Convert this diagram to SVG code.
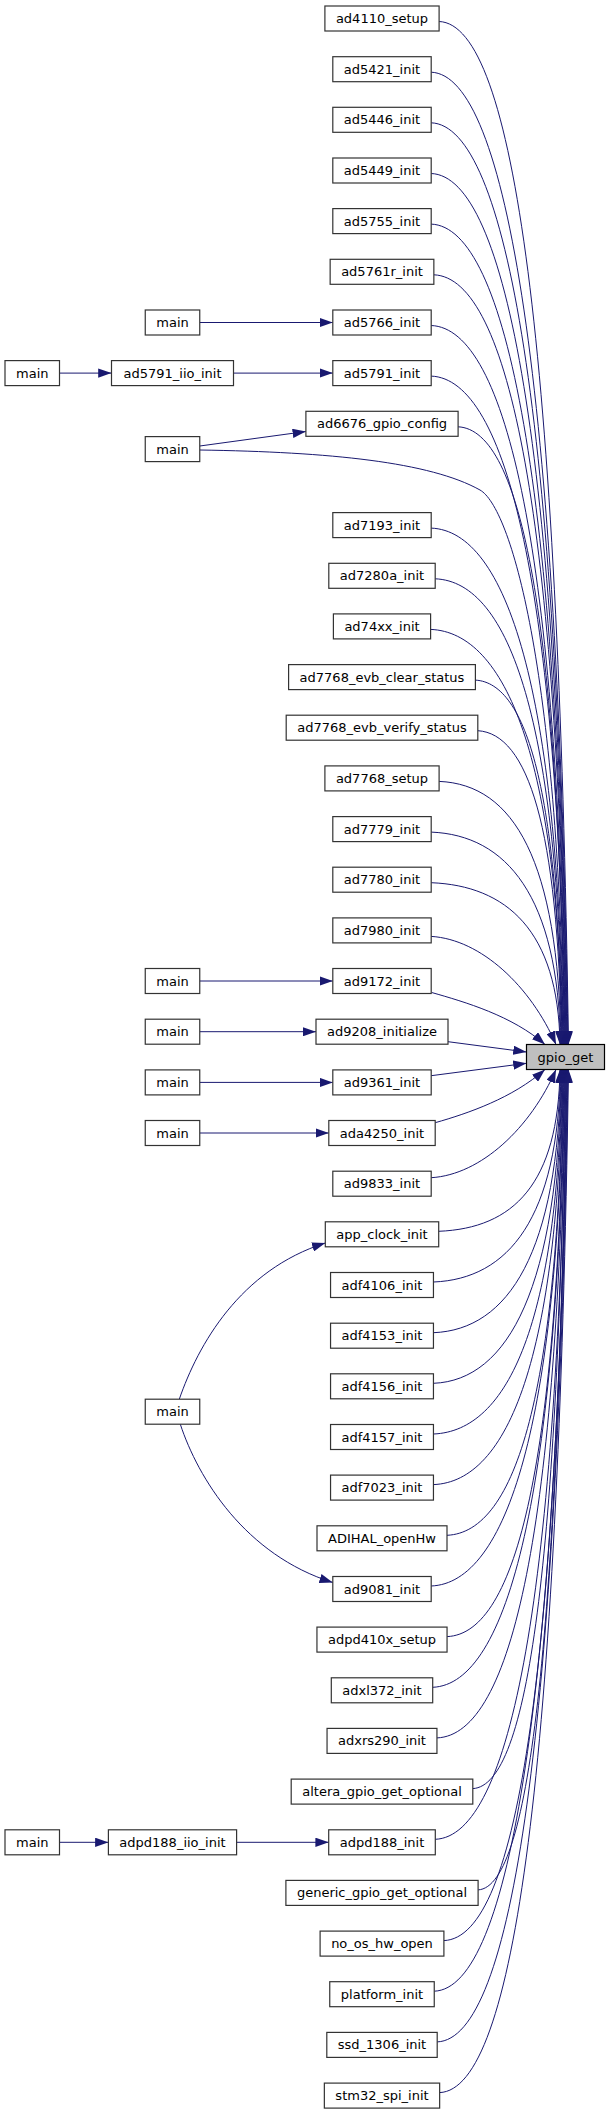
<svg xmlns="http://www.w3.org/2000/svg" width="611" height="2115" viewBox="0 0 611 2115">
<style>
.n rect{fill:#ffffff;stroke:#333333;stroke-width:1.2}
.f rect{fill:#bfbfbf;stroke:#000000;stroke-width:1.2}
text{font-family:"DejaVu Sans","Liberation Sans",sans-serif;font-size:13px;text-anchor:middle;fill:#000000}
.e{fill:none;stroke:#191970;stroke-width:1;marker-end:url(#ah)}
</style>
<defs>
<marker id="ah" markerUnits="userSpaceOnUse" markerWidth="13.3" markerHeight="9.33" refX="13.3" refY="4.67" orient="auto" viewBox="0 0 13.3 9.33">
<path d="M0,0 L13.3,4.67 L0,9.33 Z" fill="#191970"/>
</marker>
</defs>
<rect x="0" y="0" width="611" height="2115" fill="#ffffff"/>
<g id="edges">
<path class="e" d="M439.1,21.5 C514.1,24.5 558.0,344.6 568.5,1044.5"/>
<path class="e" d="M431.2,72.2 C506.2,75.2 558.0,379.1 568,1044.5"/>
<path class="e" d="M431.2,122.8 C506.2,125.8 558.0,413.5 567.5,1044.5"/>
<path class="e" d="M431.2,173.5 C506.2,176.5 558.1,448 567,1044.5"/>
<path class="e" d="M431.2,224.1 C506.2,227.1 558.1,482.4 566.5,1044.5"/>
<path class="e" d="M433.9,274.8 C508.9,277.8 558.1,516.8 566,1044.5"/>
<path class="e" d="M431.2,325.5 C506.2,328.5 558.1,551.3 565.5,1044.5"/>
<path class="e" d="M431.2,376.1 C506.2,379.1 558.1,585.7 565,1044.5"/>
<path class="e" d="M458.1,426.8 C521.7,429.8 558.1,620.2 564.5,1044.5"/>
<path class="e" d="M199.8,450 C330,452 430,462 480,490 C510,507 558.3,663.2 564,1044.5"/>
<path class="e" d="M431.2,528.1 C506.2,531.1 558.2,689.1 563.5,1044.5"/>
<path class="e" d="M435.2,578.8 C510.2,581.8 558.2,723.6 563,1044.5"/>
<path class="e" d="M430.6,629.4 C505.6,632.4 558.2,758 562.5,1044.5"/>
<path class="e" d="M475.4,680.1 C527.1,683.1 558.2,792.5 562,1044.5"/>
<path class="e" d="M477.8,730.7 C527.8,733.7 558.2,826.9 561.5,1044.5"/>
<path class="e" d="M439.1,781.4 C514.1,784.4 558.3,861.3 561,1044.5"/>
<path class="e" d="M431.2,832.1 C506.2,835.1 558.3,895.8 560.5,1044.5"/>
<path class="e" d="M431.2,882.7 C506.2,885.7 558.3,930.2 560,1044.5"/>
<path class="e" d="M431.2,936.4 C481.2,939.4 530.7,986.5 556,1044.5"/>
<path class="e" d="M431.7,992.5 C465,1002 512.5,1015.9 545,1044.5"/>
<path class="e" d="M448,1041.7 L526.5,1052"/>
<path class="e" d="M431.2,1075.7 L526.5,1063.3"/>
<path class="e" d="M435.2,1122.7 C468.5,1113.2 512.5,1098.1 545,1069.5"/>
<path class="e" d="M431.2,1177.7 C481.2,1174.7 530.7,1127.6 556,1069.5"/>
<path class="e" d="M438.7,1231.3 C513.7,1228.3 558.3,1183.8 560,1069.5"/>
<path class="e" d="M433.5,1282 C508.5,1279 558.3,1218.3 560.5,1069.5"/>
<path class="e" d="M433.5,1332.7 C508.5,1329.7 558.3,1252.7 561,1069.5"/>
<path class="e" d="M433.5,1383.3 C508.5,1380.3 558.2,1287.1 561.5,1069.5"/>
<path class="e" d="M433.5,1434 C508.5,1431 558.2,1321.6 562,1069.5"/>
<path class="e" d="M433.5,1484.6 C508.5,1481.6 558.2,1356 562.5,1069.5"/>
<path class="e" d="M447,1535.3 C516.6,1532.3 558.2,1390.5 563,1069.5"/>
<path class="e" d="M431.2,1586 C506.2,1583 558.2,1425 563.5,1069.5"/>
<path class="e" d="M447.1,1636.6 C517.2,1633.6 558.1,1459.4 564,1069.5"/>
<path class="e" d="M432.7,1687.3 C507.7,1684.3 558.1,1493.9 564.5,1069.5"/>
<path class="e" d="M437,1737.9 C512,1734.9 558.1,1528.3 565,1069.5"/>
<path class="e" d="M472.8,1788.6 C528.4,1785.6 558.1,1562.7 565.5,1069.5"/>
<path class="e" d="M435.3,1839.3 C510.3,1836.3 558.1,1597.2 566,1069.5"/>
<path class="e" d="M478.1,1889.9 C531.1,1886.9 558.1,1631.6 566.5,1069.5"/>
<path class="e" d="M443.9,1940.6 C518.9,1937.6 558.1,1666.1 567,1069.5"/>
<path class="e" d="M434.3,1991.2 C509.3,1988.2 558,1700.5 567.5,1069.5"/>
<path class="e" d="M437.2,2041.9 C512.2,2038.9 558,1735 568,1069.5"/>
<path class="e" d="M439.6,2092.6 C514.6,2089.6 558,1769.5 568.5,1069.5"/>
<path class="e" d="M199.8,322.5 L332.8,322.5"/>
<path class="e" d="M59.5,373.1 L111.5,373.1"/>
<path class="e" d="M233.5,373.1 L332.8,373.1"/>
<path class="e" d="M199.8,446 L305.9,431.5"/>
<path class="e" d="M199.8,981 L332.8,981"/>
<path class="e" d="M199.8,1031.7 L316,1031.7"/>
<path class="e" d="M199.8,1082.4 L332.8,1082.4"/>
<path class="e" d="M199.8,1133 L328.8,1133"/>
<path class="e" d="M179.3,1399.2 C198,1345 240,1270 325.3,1243"/>
<path class="e" d="M180.3,1424.2 C198,1478 245,1555 332.8,1582.5"/>
<path class="e" d="M59.5,1842.3 L108.4,1842.3"/>
<path class="e" d="M236.6,1842.3 L328.7,1842.3"/>
</g>
<g id="gpio_get" class="f"><rect x="526.5" y="1044.5" width="78" height="25"/><text x="565.5" y="1061.5">gpio_get</text></g>
<g id="ad4110_setup" class="n"><rect x="324.9" y="6" width="114.2" height="25"/><text x="382" y="23">ad4110_setup</text></g>
<g id="ad5421_init" class="n"><rect x="332.8" y="56.7" width="98.4" height="25"/><text x="382" y="73.7">ad5421_init</text></g>
<g id="ad5446_init" class="n"><rect x="332.8" y="107.3" width="98.4" height="25"/><text x="382" y="124.3">ad5446_init</text></g>
<g id="ad5449_init" class="n"><rect x="332.8" y="158" width="98.4" height="25"/><text x="382" y="175">ad5449_init</text></g>
<g id="ad5755_init" class="n"><rect x="332.8" y="208.6" width="98.4" height="25"/><text x="382" y="225.6">ad5755_init</text></g>
<g id="ad5761r_init" class="n"><rect x="330.15" y="259.3" width="103.7" height="25"/><text x="382" y="276.3">ad5761r_init</text></g>
<g id="ad5766_init" class="n"><rect x="332.8" y="310" width="98.4" height="25"/><text x="382" y="327">ad5766_init</text></g>
<g id="main_1" class="n"><rect x="145.25" y="310" width="54.5" height="25"/><text x="172.5" y="327">main</text></g>
<g id="ad5791_init" class="n"><rect x="332.8" y="360.6" width="98.4" height="25"/><text x="382" y="377.6">ad5791_init</text></g>
<g id="ad5791_iio_init" class="n"><rect x="111.5" y="360.6" width="122" height="25"/><text x="172.5" y="377.6">ad5791_iio_init</text></g>
<g id="main_2" class="n"><rect x="5" y="360.6" width="54.5" height="25"/><text x="32.25" y="377.6">main</text></g>
<g id="ad6676_gpio_config" class="n"><rect x="305.9" y="411.3" width="152.2" height="25"/><text x="382" y="428.3">ad6676_gpio_config</text></g>
<g id="main_3" class="n"><rect x="145.25" y="436.6" width="54.5" height="25"/><text x="172.5" y="453.6">main</text></g>
<g id="ad7193_init" class="n"><rect x="332.8" y="512.6" width="98.4" height="25"/><text x="382" y="529.6">ad7193_init</text></g>
<g id="ad7280a_init" class="n"><rect x="328.8" y="563.3" width="106.4" height="25"/><text x="382" y="580.3">ad7280a_init</text></g>
<g id="ad74xx_init" class="n"><rect x="333.4" y="613.9" width="97.2" height="25"/><text x="382" y="630.9">ad74xx_init</text></g>
<g id="ad7768_evb_clear_status" class="n"><rect x="288.6" y="664.6" width="186.8" height="25"/><text x="382" y="681.6">ad7768_evb_clear_status</text></g>
<g id="ad7768_evb_verify_status" class="n"><rect x="286.2" y="715.2" width="191.6" height="25"/><text x="382" y="732.2">ad7768_evb_verify_status</text></g>
<g id="ad7768_setup" class="n"><rect x="324.9" y="765.9" width="114.2" height="25"/><text x="382" y="782.9">ad7768_setup</text></g>
<g id="ad7779_init" class="n"><rect x="332.8" y="816.6" width="98.4" height="25"/><text x="382" y="833.6">ad7779_init</text></g>
<g id="ad7780_init" class="n"><rect x="332.8" y="867.2" width="98.4" height="25"/><text x="382" y="884.2">ad7780_init</text></g>
<g id="ad7980_init" class="n"><rect x="332.8" y="917.9" width="98.4" height="25"/><text x="382" y="934.9">ad7980_init</text></g>
<g id="ad9172_init" class="n"><rect x="332.8" y="968.5" width="98.4" height="25"/><text x="382" y="985.5">ad9172_init</text></g>
<g id="main_4" class="n"><rect x="145.25" y="968.5" width="54.5" height="25"/><text x="172.5" y="985.5">main</text></g>
<g id="ad9208_initialize" class="n"><rect x="316" y="1019.2" width="132" height="25"/><text x="382" y="1036.2">ad9208_initialize</text></g>
<g id="main_5" class="n"><rect x="145.25" y="1019.2" width="54.5" height="25"/><text x="172.5" y="1036.2">main</text></g>
<g id="ad9361_init" class="n"><rect x="332.8" y="1069.9" width="98.4" height="25"/><text x="382" y="1086.9">ad9361_init</text></g>
<g id="main_6" class="n"><rect x="145.25" y="1069.9" width="54.5" height="25"/><text x="172.5" y="1086.9">main</text></g>
<g id="ada4250_init" class="n"><rect x="328.8" y="1120.5" width="106.4" height="25"/><text x="382" y="1137.5">ada4250_init</text></g>
<g id="main_7" class="n"><rect x="145.25" y="1120.5" width="54.5" height="25"/><text x="172.5" y="1137.5">main</text></g>
<g id="ad9833_init" class="n"><rect x="332.8" y="1171.2" width="98.4" height="25"/><text x="382" y="1188.2">ad9833_init</text></g>
<g id="app_clock_init" class="n"><rect x="325.3" y="1221.8" width="113.4" height="25"/><text x="382" y="1238.8">app_clock_init</text></g>
<g id="adf4106_init" class="n"><rect x="330.55" y="1272.5" width="102.9" height="25"/><text x="382" y="1289.5">adf4106_init</text></g>
<g id="adf4153_init" class="n"><rect x="330.55" y="1323.2" width="102.9" height="25"/><text x="382" y="1340.2">adf4153_init</text></g>
<g id="adf4156_init" class="n"><rect x="330.55" y="1373.8" width="102.9" height="25"/><text x="382" y="1390.8">adf4156_init</text></g>
<g id="main_8" class="n"><rect x="145.25" y="1399.2" width="54.5" height="25"/><text x="172.5" y="1416.2">main</text></g>
<g id="adf4157_init" class="n"><rect x="330.55" y="1424.5" width="102.9" height="25"/><text x="382" y="1441.5">adf4157_init</text></g>
<g id="adf7023_init" class="n"><rect x="330.55" y="1475.1" width="102.9" height="25"/><text x="382" y="1492.1">adf7023_init</text></g>
<g id="ADIHAL_openHw" class="n"><rect x="317" y="1525.8" width="130" height="25"/><text x="382" y="1542.8">ADIHAL_openHw</text></g>
<g id="ad9081_init" class="n"><rect x="332.8" y="1576.5" width="98.4" height="25"/><text x="382" y="1593.5">ad9081_init</text></g>
<g id="adpd410x_setup" class="n"><rect x="316.95" y="1627.1" width="130.1" height="25"/><text x="382" y="1644.1">adpd410x_setup</text></g>
<g id="adxl372_init" class="n"><rect x="331.3" y="1677.8" width="101.4" height="25"/><text x="382" y="1694.8">adxl372_init</text></g>
<g id="adxrs290_init" class="n"><rect x="327.05" y="1728.4" width="109.9" height="25"/><text x="382" y="1745.4">adxrs290_init</text></g>
<g id="altera_gpio_get_optional" class="n"><rect x="291.2" y="1779.1" width="181.6" height="25"/><text x="382" y="1796.1">altera_gpio_get_optional</text></g>
<g id="adpd188_init" class="n"><rect x="328.7" y="1829.8" width="106.6" height="25"/><text x="382" y="1846.8">adpd188_init</text></g>
<g id="adpd188_iio_init" class="n"><rect x="108.4" y="1829.8" width="128.2" height="25"/><text x="172.5" y="1846.8">adpd188_iio_init</text></g>
<g id="main_9" class="n"><rect x="5" y="1829.8" width="54.5" height="25"/><text x="32.25" y="1846.8">main</text></g>
<g id="generic_gpio_get_optional" class="n"><rect x="285.9" y="1880.4" width="192.2" height="25"/><text x="382" y="1897.4">generic_gpio_get_optional</text></g>
<g id="no_os_hw_open" class="n"><rect x="320.1" y="1931.1" width="123.8" height="25"/><text x="382" y="1948.1">no_os_hw_open</text></g>
<g id="platform_init" class="n"><rect x="329.75" y="1981.7" width="104.5" height="25"/><text x="382" y="1998.7">platform_init</text></g>
<g id="ssd_1306_init" class="n"><rect x="326.8" y="2032.4" width="110.4" height="25"/><text x="382" y="2049.4">ssd_1306_init</text></g>
<g id="stm32_spi_init" class="n"><rect x="324.35" y="2083.1" width="115.3" height="25"/><text x="382" y="2100.1">stm32_spi_init</text></g>
</svg>
